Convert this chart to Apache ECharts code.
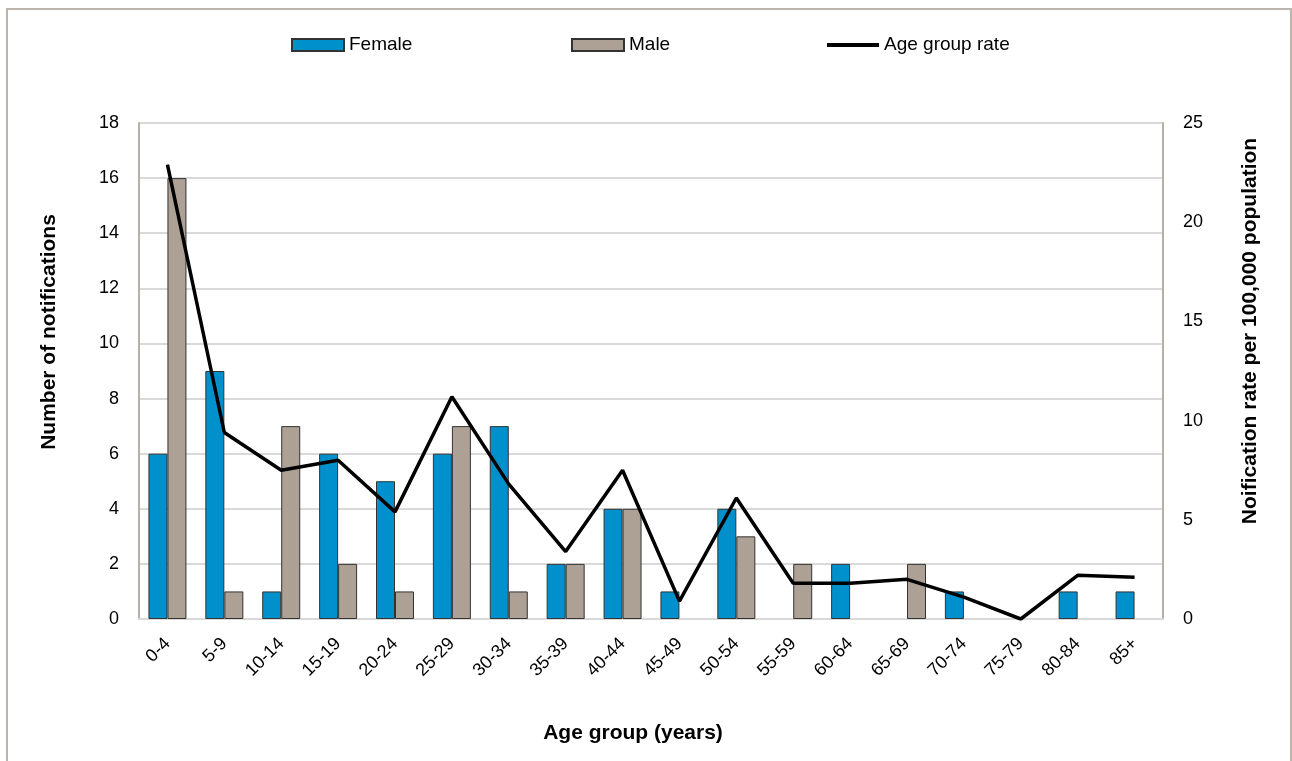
<!DOCTYPE html>
<html>
<head>
<meta charset="utf-8">
<script src="https://cdn.jsdelivr.net/npm/echarts@6/dist/echarts.min.js"></script>
<style>
html, body { margin: 0; padding: 0; background: #fff; }
#frame { position: absolute; left: 6px; top: 8px; width: 1282px; height: 760px; border: 2px solid #BDB5AB; border-bottom: none; }
#chart { position: absolute; left: 0; top: 0; width: 1292px; height: 761px; }
</style>
</head>
<body>
<div id="frame"></div>
<div id="chart"></div>
<script>
// data
var ageGroups = ['0-4','5-9','10-14','15-19','20-24','25-29','30-34','35-39','40-44','45-49','50-54','55-59','60-64','65-69','70-74','75-79','80-84','85+'];
var female = [6, 9, 1, 6, 5, 6, 7, 2, 4, 1, 4, 0, 2, 0, 1, 0, 1, 1];
var male = [16, 1, 7, 2, 1, 7, 1, 2, 4, 0, 3, 2, 0, 2, 0, 0, 0, 0];
var rate = [22.9, 9.4, 7.5, 8.0, 5.4, 11.2, 6.8, 3.4, 7.5, 0.9, 6.1, 1.8, 1.8, 2.0, 1.1, 0, 2.2, 2.1];

var font = 'Liberation Sans, Arial, sans-serif';

// zero counts have no bar in the original, so leave them empty
function noZero(arr) {
    return arr.map(function (v) { return v === 0 ? '-' : v; });
}

function legendItem(name, left, icon, h) {
    return {
        left: left, top: 35, padding: 0,
        itemWidth: 52, itemHeight: h,
        textStyle: { fontSize: 19, lineHeight: 20, color: '#000', fontFamily: font },
        data: [{ name: name, icon: icon }]
    };
}

var chart = echarts.init(document.getElementById('chart'));
var option = {
    animation: false,
    textStyle: { fontFamily: font },
    legend: [
        legendItem('Female', 291, 'rect', 12),
        legendItem('Male', 571, 'rect', 12),
        legendItem('Age group rate', 827, 'rect', 4)
    ],
    grid: { left: 139, right: 129, top: 123, bottom: 142 },
    xAxis: {
        type: 'category',
        data: ageGroups,
        axisLine: { lineStyle: { color: '#D9D9D9', width: 2 } },
        axisTick: { show: false },
        axisLabel: { rotate: 45, fontSize: 18, color: '#000', margin: 22, fontFamily: font }
    },
    yAxis: [
        {
            type: 'value',
            min: 0, max: 18, interval: 2,
            axisLine: { show: true, lineStyle: { color: '#B8B0A6', width: 2 } },
            axisTick: { show: false },
            splitLine: { lineStyle: { color: '#D9D9D9', width: 2 } },
            axisLabel: { fontSize: 18, color: '#000', margin: 20, fontFamily: font }
        },
        {
            type: 'value',
            min: 0, max: 25, interval: 5,
            axisLine: { show: true, lineStyle: { color: '#B8B0A6', width: 2 } },
            axisTick: { show: false },
            splitLine: { show: false },
            axisLabel: { fontSize: 18, color: '#000', margin: 20, fontFamily: font }
        }
    ],
    series: [
        {
            name: 'Female', type: 'bar', data: noZero(female),
            barWidth: 19, barGap: '0%',
            itemStyle: { color: '#0091CD', borderColor: '#333', borderWidth: 1 }
        },
        {
            name: 'Male', type: 'bar', data: noZero(male),
            barWidth: 19, barGap: '0%',
            itemStyle: { color: '#ACA194', borderColor: '#333', borderWidth: 1 }
        },
        {
            name: 'Age group rate', type: 'line', yAxisIndex: 1, data: rate,
            symbol: 'none',
            lineStyle: { color: '#000', width: 3.5 },
            itemStyle: { color: '#000' }
        }
    ],
    graphic: [
        { type: 'text', x: 49, y: 332, rotation: Math.PI / 2,
          style: { text: 'Number of notifications', font: 'bold 21px ' + font, fill: '#000', textAlign: 'center', textVerticalAlign: 'middle' } },
        { type: 'text', x: 1250, y: 331, rotation: Math.PI / 2,
          style: { text: 'Noification rate per 100,000 population', font: 'bold 21px ' + font, fill: '#000', textAlign: 'center', textVerticalAlign: 'middle' } },
        { type: 'text', x: 633, y: 733,
          style: { text: 'Age group (years)', font: 'bold 21px ' + font, fill: '#000', textAlign: 'center', textVerticalAlign: 'middle' } }
    ]
};
chart.setOption(option);
</script>
</body>
</html>
